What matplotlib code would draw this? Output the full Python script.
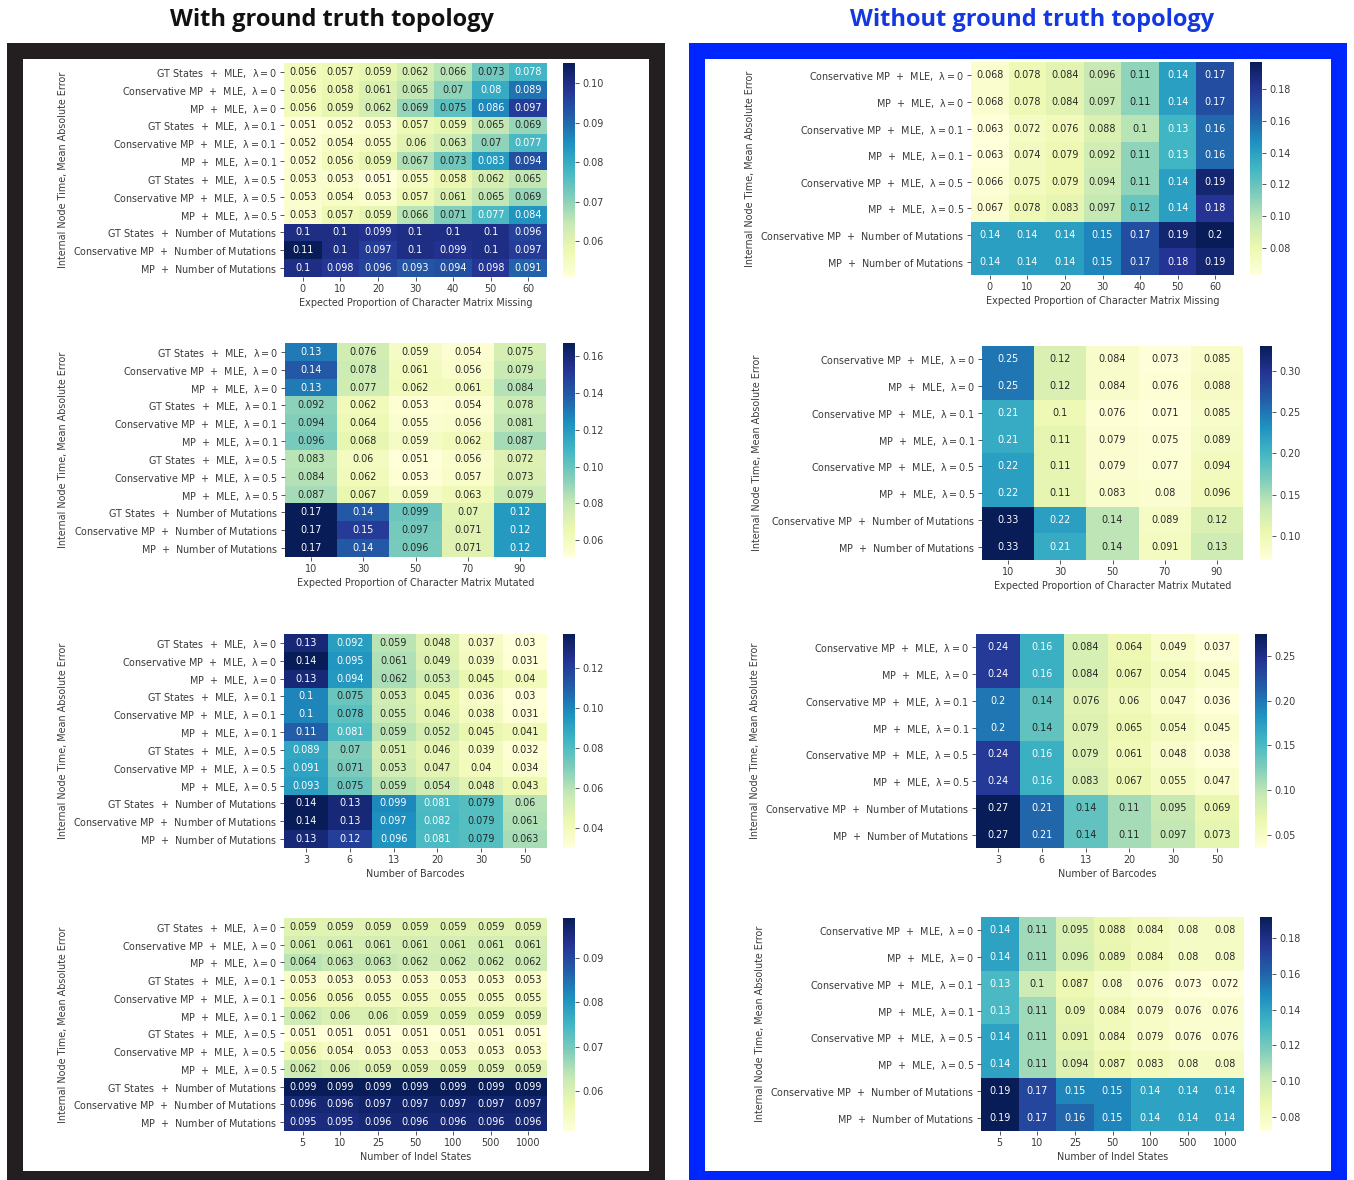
import numpy as np
import matplotlib
matplotlib.use("Agg")
import matplotlib.pyplot as plt
from matplotlib.patches import Rectangle

W, H = 1354, 1180

# ---------------------------------------------------------------
# row labels
rows_gt = [r"GT States  $+$  MLE,  $\lambda = 0$", r"Conservative MP  $+$  MLE,  $\lambda = 0$",
           r"MP  $+$  MLE,  $\lambda = 0$", r"GT States  $+$  MLE,  $\lambda = 0.1$",
           r"Conservative MP  $+$  MLE,  $\lambda = 0.1$", r"MP  $+$  MLE,  $\lambda = 0.1$",
           r"GT States  $+$  MLE,  $\lambda = 0.5$", r"Conservative MP  $+$  MLE,  $\lambda = 0.5$",
           r"MP  $+$  MLE,  $\lambda = 0.5$", r"GT States  $+$  Number of Mutations",
           r"Conservative MP  $+$  Number of Mutations", r"MP  $+$  Number of Mutations"]
rows_nogt = [r"Conservative MP  $+$  MLE,  $\lambda = 0$", r"MP  $+$  MLE,  $\lambda = 0$",
             r"Conservative MP  $+$  MLE,  $\lambda = 0.1$", r"MP  $+$  MLE,  $\lambda = 0.1$",
             r"Conservative MP  $+$  MLE,  $\lambda = 0.5$", r"MP  $+$  MLE,  $\lambda = 0.5$",
             r"Conservative MP  $+$  Number of Mutations", r"MP  $+$  Number of Mutations"]

# column labels
missing = ["0", "10", "20", "30", "40", "50", "60"]
mutated = ["10", "30", "50", "70", "90"]
barcodes = ["3", "6", "13", "20", "30", "50"]
indel = ["5", "10", "25", "50", "100", "500", "1000"]

xlabels = ["Expected Proportion of Character Matrix Missing",
           "Expected Proportion of Character Matrix Mutated",
           "Number of Barcodes", "Number of Indel States"]

# ---------------------------------------------------------------
# with ground truth topology
gt_missing = [
    [0.056, 0.057, 0.059, 0.062, 0.066, 0.073, 0.078],
    [0.056, 0.058, 0.061, 0.065, 0.07, 0.08, 0.089],
    [0.056, 0.059, 0.062, 0.069, 0.075, 0.086, 0.097],
    [0.051, 0.052, 0.053, 0.057, 0.059, 0.065, 0.069],
    [0.052, 0.054, 0.055, 0.06, 0.063, 0.07, 0.077],
    [0.052, 0.056, 0.059, 0.067, 0.073, 0.083, 0.094],
    [0.053, 0.053, 0.051, 0.055, 0.058, 0.062, 0.065],
    [0.053, 0.054, 0.053, 0.057, 0.061, 0.065, 0.069],
    [0.053, 0.057, 0.059, 0.066, 0.071, 0.077, 0.084],
    [0.1, 0.1, 0.099, 0.1, 0.1, 0.1, 0.096],
    [0.1051, 0.1, 0.097, 0.1, 0.099, 0.1, 0.097],
    [0.1, 0.098, 0.096, 0.093, 0.094, 0.098, 0.091],
]
gt_mutated = [
    [0.13, 0.076, 0.059, 0.054, 0.075],
    [0.14, 0.078, 0.061, 0.056, 0.079],
    [0.13, 0.077, 0.062, 0.061, 0.084],
    [0.092, 0.062, 0.053, 0.054, 0.078],
    [0.094, 0.064, 0.055, 0.056, 0.081],
    [0.096, 0.068, 0.059, 0.062, 0.087],
    [0.083, 0.06, 0.051, 0.056, 0.072],
    [0.084, 0.062, 0.053, 0.057, 0.073],
    [0.087, 0.067, 0.059, 0.063, 0.079],
    [0.167, 0.14, 0.099, 0.07, 0.12],
    [0.167, 0.15, 0.097, 0.071, 0.12],
    [0.167, 0.14, 0.096, 0.071, 0.12],
]
gt_barcodes = [
    [0.13, 0.092, 0.059, 0.048, 0.037, 0.03],
    [0.137, 0.095, 0.061, 0.049, 0.039, 0.031],
    [0.13, 0.094, 0.062, 0.053, 0.045, 0.04],
    [0.1, 0.075, 0.053, 0.045, 0.036, 0.03],
    [0.1, 0.078, 0.055, 0.046, 0.038, 0.031],
    [0.11, 0.081, 0.059, 0.052, 0.045, 0.041],
    [0.089, 0.07, 0.051, 0.046, 0.039, 0.032],
    [0.091, 0.071, 0.053, 0.047, 0.04, 0.034],
    [0.093, 0.075, 0.059, 0.054, 0.048, 0.043],
    [0.137, 0.13, 0.099, 0.081, 0.079, 0.06],
    [0.137, 0.13, 0.097, 0.082, 0.079, 0.061],
    [0.13, 0.12, 0.096, 0.081, 0.079, 0.063],
]
gt_indel = [
    [0.059, 0.059, 0.059, 0.059, 0.059, 0.059, 0.059],
    [0.061, 0.061, 0.061, 0.061, 0.061, 0.061, 0.061],
    [0.064, 0.063, 0.063, 0.062, 0.062, 0.062, 0.062],
    [0.053, 0.053, 0.053, 0.053, 0.053, 0.053, 0.053],
    [0.056, 0.056, 0.055, 0.055, 0.055, 0.055, 0.055],
    [0.062, 0.06, 0.06, 0.059, 0.059, 0.059, 0.059],
    [0.051, 0.051, 0.051, 0.051, 0.051, 0.051, 0.051],
    [0.056, 0.054, 0.053, 0.053, 0.053, 0.053, 0.053],
    [0.062, 0.06, 0.059, 0.059, 0.059, 0.059, 0.059],
    [0.099, 0.099, 0.099, 0.099, 0.099, 0.099, 0.099],
    [0.096, 0.096, 0.097, 0.097, 0.097, 0.097, 0.097],
    [0.095, 0.095, 0.096, 0.096, 0.096, 0.096, 0.096],
]

# without ground truth topology
nogt_missing = [
    [0.068, 0.078, 0.084, 0.096, 0.11, 0.14, 0.17],
    [0.068, 0.078, 0.084, 0.097, 0.11, 0.14, 0.17],
    [0.063, 0.072, 0.076, 0.088, 0.1, 0.13, 0.16],
    [0.063, 0.074, 0.079, 0.092, 0.11, 0.13, 0.16],
    [0.066, 0.075, 0.079, 0.094, 0.11, 0.14, 0.19],
    [0.067, 0.078, 0.083, 0.097, 0.12, 0.14, 0.18],
    [0.14, 0.14, 0.14, 0.15, 0.17, 0.19, 0.197],
    [0.14, 0.14, 0.14, 0.15, 0.17, 0.18, 0.19],
]
nogt_mutated = [
    [0.25, 0.12, 0.084, 0.073, 0.085],
    [0.25, 0.12, 0.084, 0.076, 0.088],
    [0.21, 0.1, 0.076, 0.071, 0.085],
    [0.21, 0.11, 0.079, 0.075, 0.089],
    [0.22, 0.11, 0.079, 0.077, 0.094],
    [0.22, 0.11, 0.083, 0.08, 0.096],
    [0.33, 0.22, 0.14, 0.089, 0.12],
    [0.33, 0.21, 0.14, 0.091, 0.13],
]
nogt_barcodes = [
    [0.24, 0.16, 0.084, 0.064, 0.049, 0.037],
    [0.24, 0.16, 0.084, 0.067, 0.054, 0.045],
    [0.2, 0.14, 0.076, 0.06, 0.047, 0.036],
    [0.2, 0.14, 0.079, 0.065, 0.054, 0.045],
    [0.24, 0.16, 0.079, 0.061, 0.048, 0.038],
    [0.24, 0.16, 0.083, 0.067, 0.055, 0.047],
    [0.274, 0.21, 0.14, 0.11, 0.095, 0.069],
    [0.274, 0.21, 0.14, 0.11, 0.097, 0.073],
]
nogt_indel = [
    [0.14, 0.11, 0.095, 0.088, 0.084, 0.08, 0.08],
    [0.14, 0.11, 0.096, 0.089, 0.084, 0.08, 0.08],
    [0.13, 0.1, 0.087, 0.08, 0.076, 0.073, 0.072],
    [0.13, 0.11, 0.09, 0.084, 0.079, 0.076, 0.076],
    [0.14, 0.11, 0.091, 0.084, 0.079, 0.076, 0.076],
    [0.14, 0.11, 0.094, 0.087, 0.083, 0.08, 0.08],
    [0.192, 0.17, 0.15, 0.15, 0.14, 0.14, 0.14],
    [0.192, 0.17, 0.16, 0.15, 0.14, 0.14, 0.14],
]

# ---------------------------------------------------------------
plt.rcParams['font.family'] = ['DejaVu Sans']
plt.rcParams['mathtext.fontset'] = 'dejavusans'
plt.rcParams['mathtext.default'] = 'regular'
TXT = '#262626'
LBL = '#3a3a3a'
FS = 6.9

fig = plt.figure(figsize=(W / 100, H / 100), dpi=100)
fig.patch.set_facecolor('white')


def frac_rect(l, t, r, b):
    return [l / W, 1 - b / H, (r - l) / W, (b - t) / H]


def frame(l, t, r, b, th, color):
    fig.add_artist(Rectangle((l / W, 1 - b / H), (r - l) / W, (b - t) / H,
                             transform=fig.transFigure, facecolor=color,
                             edgecolor='none', zorder=-2))
    fig.add_artist(Rectangle(((l + th) / W, 1 - (b - 9) / H), (r - l - 2 * th) / W,
                             (b - t - th - 9) / H, transform=fig.transFigure,
                             facecolor='white', edgecolor='none', zorder=-1))


def luminance(c):
    rgb = np.array(c[:3])
    rgb = np.where(rgb <= .03928, rgb / 12.92, ((rgb + .055) / 1.055) ** 2.4)
    return rgb.dot([.2126, .7152, .0722])


def heatmap(data, rows, cols, xlabel, box, cbox, ylx):
    data = np.array(data)
    ax = fig.add_axes(frac_rect(*box))
    cmap = plt.get_cmap('YlGnBu')
    vmin, vmax = data.min(), data.max()
    mesh = ax.pcolormesh(data, cmap=cmap, vmin=vmin, vmax=vmax)
    ax.set_xlim(0, data.shape[1])
    ax.set_ylim(data.shape[0], 0)
    for i in range(data.shape[0]):
        for j in range(data.shape[1]):
            col = cmap((data[i, j] - vmin) / (vmax - vmin))
            tc = TXT if luminance(col) > .408 else 'w'
            ax.text(j + .5, i + .5, format(data[i, j], '.2g'), ha='center',
                    va='center', fontsize=FS, color=tc)
    ax.set_xticks(np.arange(len(cols)) + .5)
    ax.set_xticklabels(cols)
    ax.set_yticks(np.arange(len(rows)) + .5)
    ax.set_yticklabels(rows)
    ax.tick_params(labelsize=FS, colors=LBL, length=3, width=0.6, pad=2)
    ax.set_xlabel(xlabel, fontsize=FS, color=LBL, labelpad=3)
    for s in ax.spines.values():
        s.set_visible(False)
    cax = fig.add_axes(frac_rect(*cbox))
    cb = fig.colorbar(mesh, cax=cax)
    cb.outline.set_visible(False)
    cax.tick_params(labelsize=FS, colors=LBL, length=3, width=0.6, pad=2)
    yc = (box[1] + box[3]) / 2
    fig.text(ylx / W, 1 - yc / H, "Internal Node Time, Mean Absolute Error",
             rotation=90, ha='center', va='center', fontsize=FS, color=LBL)


# frames and titles
frame(7, 43, 665, 1180, 16, '#231f20')
frame(689, 43, 1347, 1180, 16, '#0026ff')
fig.text(332 / W, 1 - 20 / H, "With ground truth topology", ha='center', va='center',
         fontsize=17, fontweight='bold', family='Open Sans', color='#111111')
fig.text(1032 / W, 1 - 20 / H, "Without ground truth topology", ha='center', va='center',
         fontsize=17, fontweight='bold', family='Open Sans', color='#1438e0')

# left column
heatmap(gt_missing, rows_gt, missing, xlabels[0], (284, 63, 547, 277), (563, 63, 575, 277), 63)
heatmap(gt_mutated, rows_gt, mutated, xlabels[1], (285, 343, 546, 557), (563, 343, 575, 557), 63)
heatmap(gt_barcodes, rows_gt, barcodes, xlabels[2], (284, 634, 547, 848), (563, 634, 575, 848), 63)
heatmap(gt_indel, rows_gt, indel, xlabels[3], (284, 918, 547, 1131), (563, 918, 575, 1131), 63)

# right column
heatmap(nogt_missing, rows_nogt, missing, xlabels[0], (971, 62, 1234, 275), (1250, 62, 1262, 275), 750)
heatmap(nogt_mutated, rows_nogt, mutated, xlabels[1], (982, 346, 1243, 560), (1260, 346, 1272, 560), 757)
heatmap(nogt_barcodes, rows_nogt, barcodes, xlabels[2], (976, 634, 1239, 848), (1255, 634, 1267, 848), 755)
heatmap(nogt_indel, rows_nogt, indel, xlabels[3], (981, 917, 1244, 1131), (1260, 917, 1272, 1131), 760)

fig.savefig("out.png", dpi=100)
